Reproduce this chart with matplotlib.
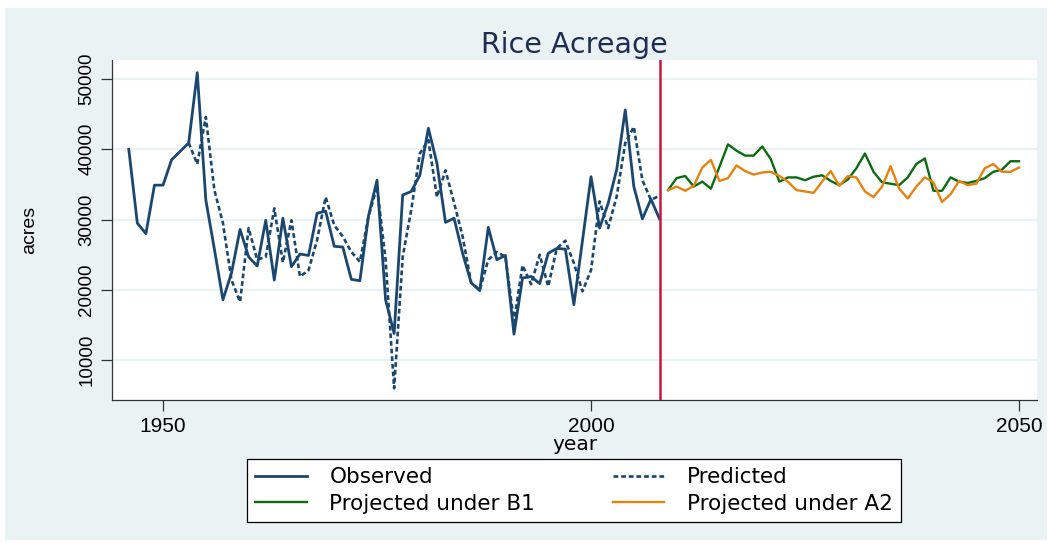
import numpy as np
import matplotlib
matplotlib.use('Agg')
import matplotlib.pyplot as plt
from matplotlib.patches import Rectangle

plt.rcParams['font.family'] = ['Liberation Sans', 'DejaVu Sans']

# observed acreage 1946-2008
obs_years = list(range(1946, 2009))
observed = [40000, 29500, 28000, 34900, 34900, 38500, 39700, 40900, 50900, 32800,
            25800, 18600, 22400, 28600, 24700, 23400, 29900, 21400, 30200, 23300,
            25100, 24900, 30900, 31200, 26200, 26100, 21500, 21300, 30500, 35600,
            18600, 13800, 33500, 34000, 36300, 43000, 38000, 29600, 30200, 25200,
            21000, 19900, 28900, 24300, 24900, 13700, 21700, 21900, 20900, 25200,
            25900, 25800, 17900, 27000, 36100, 28800, 32300, 37100, 45600, 34700,
            30100, 32900, 30100]

# model prediction 1953-2008
pred_years = list(range(1953, 2009))
predicted = [40900, 37900, 44600, 34200, 29500, 21400, 18300, 28800, 24300, 24700,
             31600, 23900, 29900, 21900, 22800, 27100, 33200, 29200, 27600, 25400,
             24000, 30400, 34700, 24300, 6000, 24700, 31400, 39400, 41300, 33200,
             37000, 32400, 27600, 21000, 20000, 24300, 25400, 24700, 15500, 23500,
             20800, 25000, 20500, 25900, 27000, 23800, 19800, 22800, 32600, 28800,
             33300, 40900, 43200, 35600, 32800, 33400]

# projections 2009-2050
proj_years = list(range(2009, 2051))
proj_b1 = [34200, 35900, 36200, 34700, 35400, 34400, 37500, 40700, 39800, 39100,
           39100, 40400, 38600, 35400, 36000, 36000, 35600, 36100, 36300, 35500,
           34900, 35700, 37300, 39400, 36800, 35300, 35100, 34900, 36000, 37900,
           38700, 34100, 34100, 36000, 35400, 35200, 35500, 35900, 36800, 37100,
           38300, 38300]
proj_a2 = [34200, 34700, 34100, 34800, 37400, 38500, 35500, 35900, 37700, 36900,
           36400, 36700, 36800, 36200, 35400, 34200, 34000, 33800, 35400, 36900,
           34800, 36200, 36000, 34000, 33200, 34700, 37600, 34400, 33000, 34700,
           36000, 35300, 32500, 33600, 35500, 34900, 35100, 37300, 37900, 36800,
           36800, 37400]

cutoff_year = 2008
y_ticks = [10000, 20000, 30000, 40000, 50000]
x_ticks = [1950, 2000, 2050]

navy = '#1a476f'
green = '#0b6b10'
orange = '#e8820f'
bg = '#eaf2f3'
wide = ['DejaVu Sans']

W, H = 1052, 543
fig = plt.figure(figsize=(W / 100, H / 100), dpi=100, facecolor='white')
# Stata graph region
fig.add_artist(Rectangle((5 / W, 3 / H), 1042 / W, 532 / H, transform=fig.transFigure,
                         facecolor=bg, edgecolor='none', zorder=-10))

ax = fig.add_axes([112 / W, 1 - 400 / H, 925 / W, 340 / H])
ax.set_facecolor('white')

l_obs, = ax.plot(obs_years, observed, color=navy, lw=2.0, label='Observed')
l_pred, = ax.plot(pred_years, predicted, color=navy, lw=1.9, linestyle=(0, (1.8, 1.1)),
                  label='Predicted')
l_b1, = ax.plot(proj_years, proj_b1, color=green, lw=1.7, label='Projected under B1')
l_a2, = ax.plot(proj_years, proj_a2, color=orange, lw=1.7, label='Projected under A2')
ax.axvline(cutoff_year, color='#c8163f', lw=1.8)

ax.set_xlim(1944.04, 2052.1)
ax.set_ylim(4340, 52700)
ax.set_xticks(x_ticks)
ax.set_yticks(y_ticks)
ax.set_yticklabels([str(v) for v in y_ticks], rotation=90, va='center')
ax.tick_params(axis='both', direction='out', length=8, width=0.9, color='#333333',
               labelcolor='black')
ax.tick_params(axis='x', pad=4, labelsize=15)
ax.tick_params(axis='y', pad=4, labelsize=13.5)
ax.grid(axis='y', color=bg, lw=1.6)
ax.set_axisbelow(True)
for s in ['top', 'right']:
    ax.spines[s].set_visible(False)
for s in ['left', 'bottom']:
    ax.spines[s].set_color('#333333')
    ax.spines[s].set_linewidth(0.9)

ax.set_xlabel('year', fontsize=14.5, family=wide)
ax.xaxis.set_label_coords(0.5, (400 - 444) / 340)
ax.xaxis.label.set_va('center')
ax.set_ylabel('acres', fontsize=14)
ax.yaxis.set_label_coords((30 - 112) / 925, 0.5)
ax.yaxis.label.set_va('center')
ax.set_title('Rice Acreage', fontsize=20.5, color='#1f2d55', pad=5, family=wide)

leg = fig.legend([l_obs, l_b1, l_pred, l_a2],
                 ['Observed', 'Projected under B1', 'Predicted', 'Projected under A2'],
                 loc='center', bbox_to_anchor=(574 / W, 1 - 490.5 / H), ncol=2,
                 prop={'family': wide, 'size': 15.5}, frameon=True, fancybox=False,
                 edgecolor='black', facecolor='white', framealpha=1,
                 handlelength=2.4, handletextpad=1.05, columnspacing=3.6,
                 borderpad=0.4, labelspacing=0.3)
leg.get_frame().set_linewidth(0.9)

fig.savefig('out.png', dpi=100, facecolor='white')
